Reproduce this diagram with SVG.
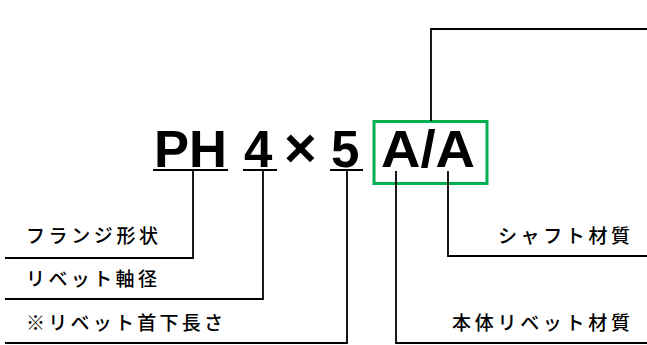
<svg xmlns="http://www.w3.org/2000/svg" width="647" height="345" viewBox="0 0 647 345">
<style>
.big{font-family:"Liberation Sans",Arial,sans-serif;font-weight:bold;font-size:51px;fill:#000}
.lbl{font-family:"Noto Sans CJK JP","Noto Sans CJK SC",sans-serif;font-size:19px;font-weight:500;fill:#000}
.ln{stroke:#000;stroke-width:1.8;fill:none}
</style>
<rect width="647" height="345" fill="#fff"/>
<g id="code">
<text class="big" x="154" y="167" textLength="73" lengthAdjust="spacingAndGlyphs">PH</text>
<text class="big" x="244" y="167">4</text>
<text class="big" x="284" y="167" style="font-size:56px">×</text>
<text class="big" x="331" y="167">5</text>
<text class="big" x="381" y="167" textLength="94" lengthAdjust="spacingAndGlyphs">A/A</text>
<path class="ln" d="M153 170H228M243 170H277M330 170H363"/>
</g>
<g id="box">
<rect x="374" y="121.5" width="113" height="62" fill="none" stroke="#00b050" stroke-width="3"/>
</g>
<g id="connectors">
<path class="ln" d="M431 121V29H647"/>
<path class="ln" d="M193 171V258H5"/>
<path class="ln" d="M263 171V299H5"/>
<path class="ln" d="M347 171V343H5"/>
<path class="ln" d="M396 171V343H647"/>
<path class="ln" d="M448 171V256H647"/>
</g>
<g id="label1"><text class="lbl" x="26" y="243" textLength="132" lengthAdjust="spacing">フランジ形状</text></g>
<g id="label2"><text class="lbl" x="26" y="286" textLength="131" lengthAdjust="spacing">リベット軸径</text></g>
<g id="label3"><text class="lbl" x="26" y="330" textLength="197" lengthAdjust="spacing">※リベット首下長さ</text></g>
<g id="label4"><text class="lbl" x="498" y="243" textLength="132" lengthAdjust="spacing">シャフト材質</text></g>
<g id="label5"><text class="lbl" x="452" y="330" textLength="178" lengthAdjust="spacing">本体リベット材質</text></g>
</svg>
